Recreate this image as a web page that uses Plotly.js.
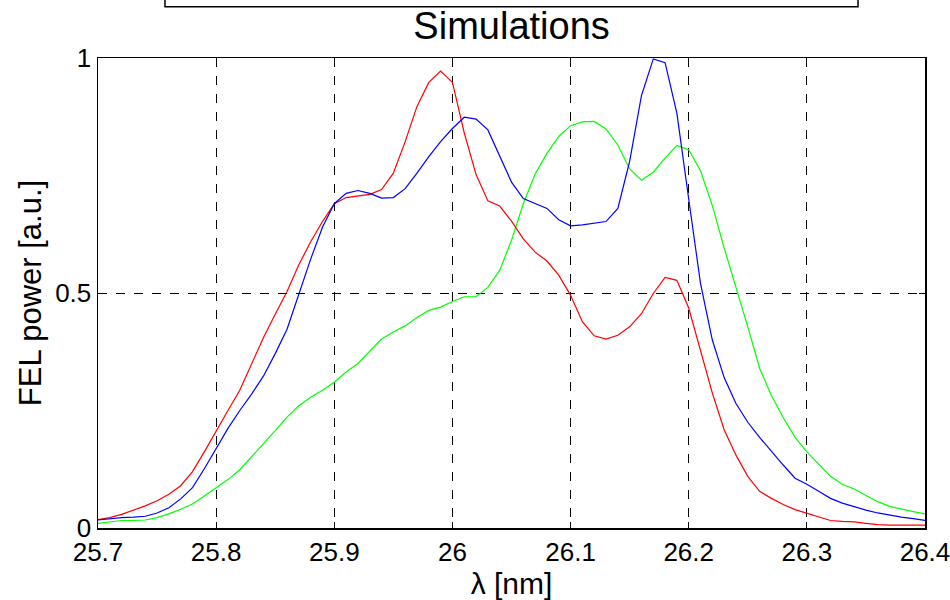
<!DOCTYPE html>
<html>
<head>
<meta charset="utf-8">
<script src="https://cdn.plot.ly/plotly-3.0.1.min.js"></script>
<style>html,body{margin:0;padding:0;background:#fff;}#chart{width:950px;height:600px;}</style>
</head>
<body>
<div id="chart"></div>
<script>
// wavelength grid [nm]
const lambdaNm = [25.70,25.71,25.72,25.73,25.74,25.75,25.76,25.77,25.78,25.79,
  25.80,25.81,25.82,25.83,25.84,25.85,25.86,25.87,25.88,25.89,
  25.90,25.91,25.92,25.93,25.94,25.95,25.96,25.97,25.98,25.99,
  26.00,26.01,26.02,26.03,26.04,26.05,26.06,26.07,26.08,26.09,
  26.10,26.11,26.12,26.13,26.14,26.15,26.16,26.17,26.18,26.19,
  26.20,26.21,26.22,26.23,26.24,26.25,26.26,26.27,26.28,26.29,
  26.30,26.31,26.32,26.33,26.34,26.35,26.36,26.37,26.38,26.39,26.40];

const redPower = [0.018,0.022,0.029,0.038,0.047,0.058,0.072,0.090,0.120,0.162,
  0.207,0.250,0.293,0.350,0.405,0.455,0.503,0.560,0.609,0.652,
  0.690,0.703,0.706,0.710,0.720,0.755,0.822,0.897,0.948,0.972,
  0.948,0.841,0.752,0.696,0.685,0.653,0.615,0.587,0.568,0.538,
  0.495,0.439,0.409,0.402,0.410,0.428,0.456,0.499,0.533,0.527,
  0.468,0.375,0.287,0.209,0.155,0.110,0.078,0.063,0.050,0.039,
  0.031,0.023,0.016,0.014,0.013,0.010,0.007,0.006,0.006,0.006,0.006];

const bluePower = [0.017,0.020,0.022,0.023,0.025,0.032,0.043,0.062,0.086,0.126,
  0.170,0.212,0.250,0.285,0.323,0.371,0.423,0.498,0.572,0.640,
  0.690,0.712,0.718,0.712,0.702,0.703,0.722,0.755,0.790,0.822,
  0.850,0.874,0.870,0.847,0.791,0.736,0.701,0.690,0.680,0.656,
  0.643,0.645,0.648,0.652,0.680,0.780,0.920,0.998,0.990,0.882,
  0.700,0.520,0.400,0.320,0.265,0.225,0.193,0.163,0.134,0.106,
  0.093,0.078,0.063,0.053,0.045,0.038,0.032,0.027,0.023,0.020,0.016];

const greenPower = [0.010,0.013,0.016,0.016,0.017,0.022,0.030,0.040,0.051,0.068,
  0.085,0.103,0.124,0.151,0.180,0.207,0.236,0.260,0.278,0.293,
  0.310,0.332,0.350,0.376,0.402,0.417,0.430,0.448,0.463,0.470,
  0.482,0.492,0.492,0.512,0.548,0.612,0.690,0.753,0.797,0.833,
  0.856,0.864,0.865,0.849,0.815,0.764,0.740,0.757,0.787,0.814,
  0.805,0.760,0.686,0.596,0.514,0.428,0.340,0.282,0.235,0.193,
  0.162,0.135,0.110,0.093,0.083,0.069,0.056,0.046,0.040,0.035,0.030];

const xTicks = [25.7,25.8,25.9,26,26.1,26.2,26.3,26.4];
const xTickText = ['25.7','25.8','25.9','26','26.1','26.2','26.3','26.4'];
const yTicks = [0,0.5,1];
const yTickText = ['0','0.5','1'];

const font = 'Liberation Sans, Arial, sans-serif';

const traces = [
  {x: lambdaNm, y: greenPower, mode:'lines', line:{color:'#00ff00', width:1.2}, name:'green'},
  {x: lambdaNm, y: redPower, mode:'lines', line:{color:'#ff0000', width:1.2}, name:'red'},
  {x: lambdaNm, y: bluePower, mode:'lines', line:{color:'#0000ff', width:1.2}, name:'blue'}
];

const axisCommon = {
  showline:true, linecolor:'#000', linewidth:1.5, mirror:'allticks',
  ticks:'inside', ticklen:6, tickcolor:'#000', tickwidth:1,
  showgrid:true, gridcolor:'#000', gridwidth:1, griddash:'dash',
  zeroline:false, tickfont:{family:font, size:26, color:'#000'},
  ticklabeloverflow:'allow'
};

const layout = {
  width:950, height:600,
  margin:{l:98, r:25, t:58, b:72},
  paper_bgcolor:'#fff', plot_bgcolor:'#fff',
  showlegend:false,
  title:{text:'Simulations', font:{family:font, size:38, color:'#000'},
    x:0.5385, xref:'container', xanchor:'center', y:0.958, yref:'container', yanchor:'middle'},
  xaxis: Object.assign({}, axisCommon, {range:[25.7,26.4], tickmode:'array', tickvals:xTicks, ticktext:xTickText,
    title:{text:'λ [nm]', font:{family:font, size:30, color:'#000'}, standoff:2}}),
  yaxis: Object.assign({}, axisCommon, {range:[0,1], tickmode:'array', tickvals:yTicks, ticktext:yTickText,
    title:{text:'FEL power [a.u.]', font:{family:font, size:31, color:'#000'}, standoff:4}}),
  shapes:[
    {type:'rect', xref:'paper', yref:'paper', x0:0.081, x1:0.919, y0:1.109, y1:1.2,
     line:{color:'#000', width:1.5}, fillcolor:'rgba(0,0,0,0)'}
  ]
};

Plotly.newPlot('chart', traces, layout, {displayModeBar:false, staticPlot:true});
</script>
</body>
</html>
